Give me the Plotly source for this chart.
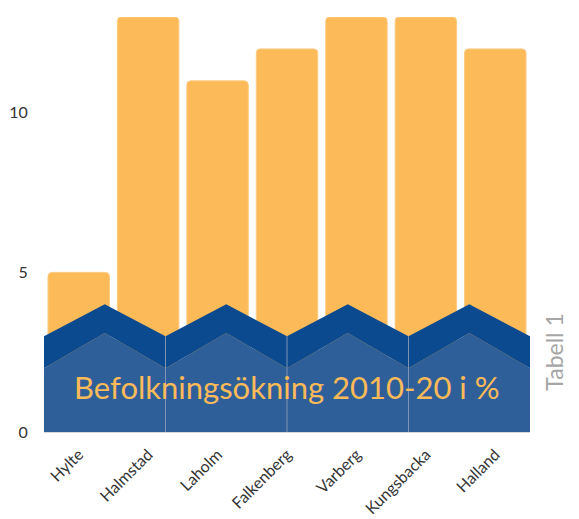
import plotly.graph_objects as go

# Befolkningsökning 2010-20 i %
kommuner = ['Hylte', 'Halmstad', 'Laholm', 'Falkenberg', 'Varberg', 'Kungsbacka', 'Halland']
okning = [5, 13, 11, 12, 13, 13, 12]

# dekorativ sicksack-banner längst ner
sick_x = [-0.5, 0.375, 1.25, 2.125, 3.0, 3.875, 4.75, 5.625, 6.5]
sick_topp = [3, 4, 3, 4, 3, 4, 3, 4, 3]
sick_botten = [2, 3.1, 2, 3.1, 2, 3.1, 2, 3.1, 2]
avdelare_x = [1.25, 3.0, 4.75]

fig = go.Figure()

fig.add_trace(go.Bar(
    x=list(range(len(kommuner))),
    y=okning,
    width=0.885,
    marker=dict(color='#FDBA58', line=dict(color='#FDCB82', width=1), cornerradius=4),
    hoverinfo='skip',
))

# ljusare blå botten
fig.add_trace(go.Scatter(
    x=sick_x, y=sick_botten, mode='lines', fill='tozeroy',
    line=dict(width=0, color='#2F5F98'), fillcolor='#2F5F98', hoverinfo='skip',
))
# mörkblått band
fig.add_trace(go.Scatter(
    x=sick_x, y=sick_topp, mode='lines', fill='tonexty',
    line=dict(width=0, color='#0B4A8F'), fillcolor='#0B4A8F', hoverinfo='skip',
))

# tunna avdelare mellan panelerna
lx, ly = [], []
for xv in avdelare_x:
    lx += [xv, xv, None]
    ly += [0, 3, None]
fig.add_trace(go.Scatter(
    x=lx, y=ly, mode='lines', line=dict(color='#7F93B3', width=1), hoverinfo='skip',
))

fig.add_annotation(
    x=3, y=1.4, xref='x', yref='y', text='Befolkningsökning 2010-20 i %',
    showarrow=False, font=dict(family='Lato', size=31, color='#FDBA58'),
)
fig.add_annotation(
    x=1.082, y=0.193, xref='paper', yref='paper', text='Tabell 1', textangle=-90,
    xanchor='right', yanchor='middle',
    showarrow=False, font=dict(family='Lato', size=23, color='#A6A6A6'),
)

# sidan har 8 px marginal runt figuren
fig.update_layout(
    width=571, height=511,
    margin=dict(l=36, r=49, t=9, b=87),
    plot_bgcolor='white', paper_bgcolor='white',
    showlegend=False,
    font=dict(family='Lato', color='#333333'),
    xaxis=dict(
        range=[-0.5, 6.5], tickvals=list(range(len(kommuner))), ticktext=kommuner,
        tickangle=-45, tickfont=dict(size=16), showgrid=False, zeroline=False,
        showline=True, linecolor='#D9D9D9', linewidth=1, automargin=False,
        ticks='outside', ticklen=6, tickcolor='white',
    ),
    yaxis=dict(
        range=[0, 13], tickvals=[0, 5, 10], tickfont=dict(size=16), automargin=False,
        showgrid=False, zeroline=False, ticks='outside', ticklen=12, tickcolor='white',
    ),
)

fig.write_html('out.html')
